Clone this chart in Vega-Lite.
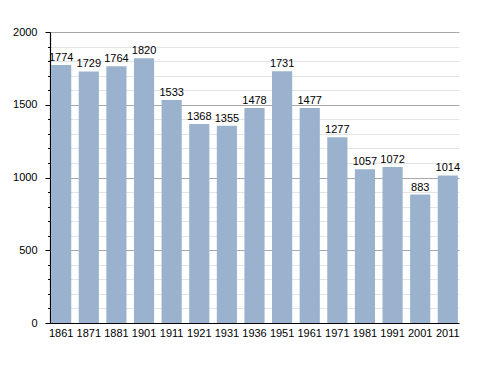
{
  "$schema": "https://vega.github.io/schema/vega-lite/v6.json",
  "autosize": "none",
  "width": 409,
  "height": 291,
  "padding": {"left": 50, "top": 32, "right": 29, "bottom": 50},
  "config": {"view": {"stroke": null}, "font": "Liberation Sans"},
  "data": {"values": [
    {"year": "1861", "pop": 1774},
    {"year": "1871", "pop": 1729},
    {"year": "1881", "pop": 1764},
    {"year": "1901", "pop": 1820},
    {"year": "1911", "pop": 1533},
    {"year": "1921", "pop": 1368},
    {"year": "1931", "pop": 1355},
    {"year": "1936", "pop": 1478},
    {"year": "1951", "pop": 1731},
    {"year": "1961", "pop": 1477},
    {"year": "1971", "pop": 1277},
    {"year": "1981", "pop": 1057},
    {"year": "1991", "pop": 1072},
    {"year": "2001", "pop": 883},
    {"year": "2011", "pop": 1014}
  ]},
  "encoding": {
    "x": {"field": "year", "type": "ordinal", "sort": null,
      "scale": {"paddingInner": 0.27, "paddingOuter": 0.04},
      "axis": {"title": null, "labelAngle": 0, "ticks": false, "labelPadding": 4, "domainColor": "#000", "domainWidth": 1.2, "labelFontSize": 11, "labelColor": "#000"}},
    "y": {"field": "pop", "type": "quantitative",
      "scale": {"domain": [0, 2000], "nice": false},
      "axis": {"title": null,
        "values": [0,100,200,300,400,500,600,700,800,900,1000,1100,1200,1300,1400,1500,1600,1700,1800,1900,2000],
        "labelExpr": "datum.value % 500 === 0 ? datum.label : ''",
        "format": "d",
        "tickSize": {"condition": {"test": "datum.value % 500 === 0", "value": 5}, "value": 2.5},
        "tickColor": "#000",
        "labelPadding": 8,
        "labelFontSize": 11,
        "labelColor": "#000",
        "domainColor": "#000",
        "domainWidth": 1.2,
        "grid": true,
        "gridColor": {"condition": {"test": "datum.value % 500 === 0", "value": "#a8a8a8"}, "value": "#e4e4e4"}
      }}
  },
  "layer": [
    {"mark": {"type": "bar", "color": "#9ab2cd"}},
    {"mark": {"type": "text", "baseline": "alphabetic", "dy": -4, "fontSize": 11, "color": "#000"},
     "encoding": {"text": {"field": "pop", "type": "quantitative", "format": "d"}}}
  ]
}
